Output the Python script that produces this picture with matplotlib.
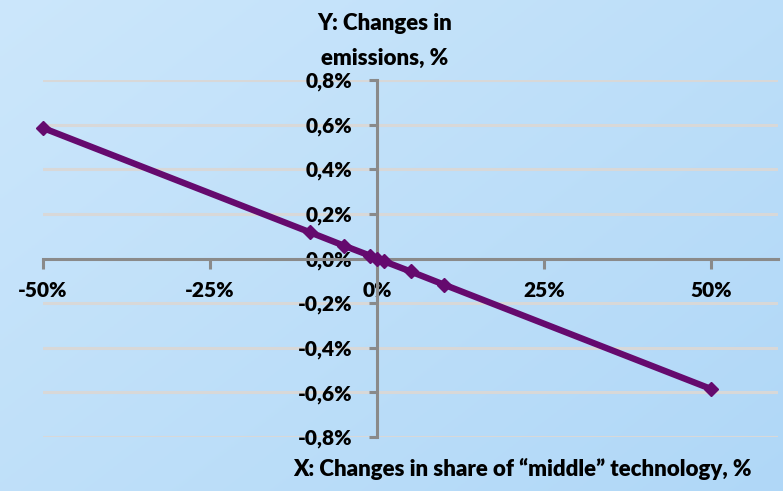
import matplotlib.pyplot as plt
import numpy as np
from matplotlib.ticker import FuncFormatter

# data (percent)
share_change = [-50, -10, -5, -1, 0, 1, 5, 10, 50]
emission_change = [0.585, 0.117, 0.058, 0.012, 0.0, -0.012, -0.058, -0.117, -0.585]

x_ticks = [-50, -25, 0, 25, 50]
y_ticks = [-0.8, -0.6, -0.4, -0.2, 0.0, 0.2, 0.4, 0.6, 0.8]

plt.rcParams['font.family'] = ['Lato', 'DejaVu Sans']

fig = plt.figure(figsize=(7.83, 4.91), dpi=100)

# light blue gradient background, lighter at top left
bg = fig.add_axes([0, 0, 1, 1], zorder=-10)
gx, gy = np.meshgrid(np.linspace(0, 1, 200), np.linspace(0, 1, 200))
g = 0.55 * gx + 0.45 * gy
c0 = np.array([0.80, 0.905, 0.985])
c1 = np.array([0.69, 0.845, 0.97])
img = c0[None, None, :] * (1 - g[..., None]) + c1[None, None, :] * g[..., None]
bg.imshow(img, aspect='auto', extent=[0, 1, 0, 1], origin='upper')
bg.axis('off')

ax = fig.add_axes([43 / 783, (491 - 437) / 491, (778 - 43) / 783, (437 - 80) / 491])
ax.set_facecolor('none')

ax.plot(share_change, emission_change, color='#650a6e', lw=4.6, marker='D',
        markersize=7, markerfacecolor='#650a6e', markeredgecolor='#650a6e',
        solid_capstyle='round', zorder=5, clip_on=False)

ax.set_xlim(-50, 60)
ax.set_ylim(-0.8, 0.8)
ax.set_yticks(y_ticks)
ax.set_xticks(x_ticks)

for y in y_ticks:
    if y != 0:
        ax.axhline(y, color='#d8d8d8', lw=2.2, zorder=1)

for s in ['top', 'right']:
    ax.spines[s].set_visible(False)
ax.spines['left'].set_position(('data', 0))
ax.spines['bottom'].set_position(('data', 0))
for s in ['left', 'bottom']:
    ax.spines[s].set_color('#8a8a8a')
    ax.spines[s].set_linewidth(2.2)
    ax.spines[s].set_zorder(2)

ax.yaxis.set_major_formatter(FuncFormatter(lambda v, p: ('%.1f%%' % v).replace('.', ',')))
ax.xaxis.set_major_formatter(FuncFormatter(lambda v, p: '%d%%' % v))
ax.tick_params(axis='y', length=6, width=2.2, color='#8a8a8a', labelsize=15, pad=12)
ax.tick_params(axis='x', length=7, width=2.2, color='#8a8a8a', labelsize=15, pad=9)
for lab in ax.get_yticklabels() + ax.get_xticklabels():
    lab.set_fontweight('heavy')

fig.text(385 / 783, 1 - 24 / 491, 'Y: Changes in', ha='center', va='center',
         fontsize=16, fontweight='heavy')
fig.text(385 / 783, 1 - 58 / 491, 'emissions, %', ha='center', va='center',
         fontsize=16, fontweight='heavy')
fig.text(752 / 783, 1 - 469 / 491, 'X: Changes in share of \u201cmiddle\u201d technology, %',
         ha='right', va='center', fontsize=16, fontweight='heavy')

fig.savefig('out.png', dpi=100)
